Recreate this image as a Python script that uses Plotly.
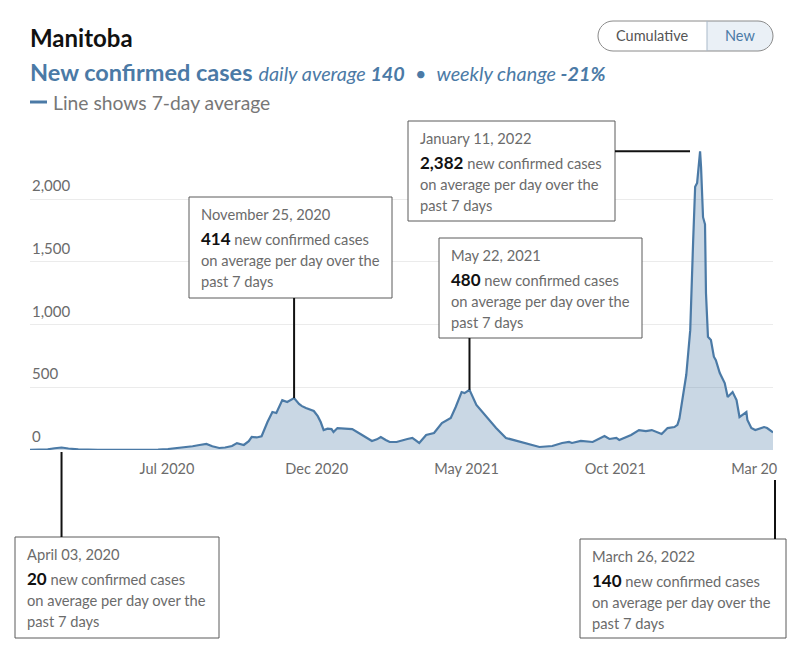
import plotly.graph_objects as go
import pandas as pd

# ---------------- data ----------------
dates = [
    "2020-03-02", "2020-03-12", "2020-03-20", "2020-03-27", "2020-04-03", "2020-04-10",
    "2020-04-20", "2020-05-10", "2020-06-01", "2020-06-25", "2020-07-10", "2020-07-20",
    "2020-07-31", "2020-08-08", "2020-08-14", "2020-08-21", "2020-08-28", "2020-09-03",
    "2020-09-10", "2020-09-16", "2020-09-23", "2020-09-28", "2020-10-05", "2020-10-10",
    "2020-10-13", "2020-10-18", "2020-10-23", "2020-10-29", "2020-11-03", "2020-11-07",
    "2020-11-10", "2020-11-13", "2020-11-18", "2020-11-21", "2020-11-25", "2020-11-30",
    "2020-12-03", "2020-12-07", "2020-12-11", "2020-12-15", "2020-12-19", "2020-12-22",
    "2020-12-25", "2020-12-29", "2021-01-02", "2021-01-04", "2021-01-08", "2021-01-15",
    "2021-01-23", "2021-02-02", "2021-02-08", "2021-02-12", "2021-02-17", "2021-02-21",
    "2021-02-26", "2021-03-02", "2021-03-09", "2021-03-15", "2021-03-20", "2021-03-25",
    "2021-04-01", "2021-04-08", "2021-04-16", "2021-04-24", "2021-05-03", "2021-05-08",
    "2021-05-14", "2021-05-17", "2021-05-22", "2021-05-29", "2021-06-08", "2021-06-18",
    "2021-06-28", "2021-07-09", "2021-07-19", "2021-08-01", "2021-08-14", "2021-08-24",
    "2021-08-31", "2021-09-03", "2021-09-12", "2021-09-24", "2021-10-06", "2021-10-11",
    "2021-10-18", "2021-10-21", "2021-11-02", "2021-11-10", "2021-11-17", "2021-11-23",
    "2021-12-03", "2021-12-09", "2021-12-16", "2021-12-19", "2021-12-21", "2021-12-24",
    "2021-12-28", "2022-01-01", "2022-01-02", "2022-01-03", "2022-01-04", "2022-01-06",
    "2022-01-08", "2022-01-11", "2022-01-12", "2022-01-14", "2022-01-16", "2022-01-17",
    "2022-01-18", "2022-01-19", "2022-01-22", "2022-01-25", "2022-01-27", "2022-01-31",
    "2022-02-05", "2022-02-08", "2022-02-13", "2022-02-17", "2022-02-20", "2022-02-23",
    "2022-02-27", "2022-02-28", "2022-03-04", "2022-03-08", "2022-03-17", "2022-03-20",
    "2022-03-26",
]
new_cases_7day = [
    2, 2, 6, 14, 20, 12,
    5, 2, 1, 2, 3, 8,
    16, 22, 30, 40, 48, 30,
    16, 20, 32, 55, 40, 70,
    104, 100, 110, 223, 303, 295,
    350, 398, 383, 395, 414, 367,
    350, 335, 320, 311, 270, 223,
    159, 170, 167, 143, 175, 170,
    167, 120, 90, 72, 85, 104,
    80, 64, 64, 80, 88, 96,
    56, 120, 136, 215, 255, 343,
    462, 454, 480, 359, 263, 175,
    96, 72, 56, 24, 32, 56,
    64, 56, 72, 64, 112, 88,
    96, 80, 120, 159, 151, 159,
    128, 175, 183, 200, 250, 398,
    600, 956, 1150, 1490, 1674, 2100,
    2130, 2382, 2256, 1857, 1800, 1250,
    1012, 903, 877, 744, 717, 614,
    534, 422, 462, 398, 263, 279,
    303, 239, 175, 159, 183, 175,
    140,
]

tick_dates = ["2020-07-19", "2020-12-18", "2021-05-19", "2021-10-17", "2022-03-07"]
tick_labels = ["Jul 2020", "Dec 2020", "May 2021", "Oct 2021", "Mar 20"]
y_ticks = [0, 500, 1000, 1500, 2000]
y_tick_labels = ["0", "500", "1,000", "1,500", "2,000"]

region = "Manitoba"
metric = "New confirmed cases"
daily_average = 140
weekly_change = "-21%"
callout_dates = ["2020-04-03", "2020-11-25", "2021-05-22", "2022-01-11", "2022-03-26"]

# ---------------- layout geometry (reference pixel coordinates) ----------------
OFF = 8                      # page body margin of the html page
WIDTH, HEIGHT = 800 - 2 * OFF, 654 - 2 * OFF
L, R, T, B = 30, 773, 120, 450
W, H = R - L, B - T
Y_MAX = 2632

BLUE = "#4b7aa6"
GRAY = "#6b6b6b"
FONT = "Lato"


def px(x):
    return (x - L) / W


def py(y):
    return (B - y) / H


def yval(y):
    return (B - y) / H * Y_MAX


def pt(x, y):
    return f"{px(x):.5f},{py(y):.5f}"


K = 0.5523


def pill(x0, x1, y0, y1, r, round_left, round_right):
    p = [f"M {pt(x0 + r, y0)}" if round_left else f"M {pt(x0, y0)}"]
    if round_right:
        p.append(f"L {pt(x1 - r, y0)}")
        p.append(f"C {pt(x1 - r + K * r, y0)} {pt(x1, y0 + r - K * r)} {pt(x1, y0 + r)}")
        p.append(f"L {pt(x1, y1 - r)}")
        p.append(f"C {pt(x1, y1 - r + K * r)} {pt(x1 - r + K * r, y1)} {pt(x1 - r, y1)}")
    else:
        p.append(f"L {pt(x1, y0)}")
        p.append(f"L {pt(x1, y1)}")
    if round_left:
        p.append(f"L {pt(x0 + r, y1)}")
        p.append(f"C {pt(x0 + r - K * r, y1)} {pt(x0, y1 - r + K * r)} {pt(x0, y1 - r)}")
        p.append(f"L {pt(x0, y0 + r)}")
        p.append(f"C {pt(x0, y0 + r - K * r)} {pt(x0 + r - K * r, y0)} {pt(x0 + r, y0)}")
    else:
        p.append(f"L {pt(x0, y1)}")
    p.append("Z")
    return " ".join(p)


series = dict(zip(dates, new_cases_7day))

fig = go.Figure()
fig.add_trace(go.Scatter(
    x=dates, y=new_cases_7day, mode="lines",
    line=dict(color=BLUE, width=2.2),
    fill="tozeroy", fillcolor="rgba(75,122,166,0.30)",
    hoverinfo="skip", showlegend=False,
))

shapes = []
annotations = []

# y tick labels, sitting above their grid lines
for v, lab in zip(y_ticks, y_tick_labels):
    annotations.append(dict(xref="paper", yref="y", x=0, y=v, xanchor="left", yanchor="middle",
                            yshift=14, text=lab, showarrow=False,
                            font=dict(family=FONT, size=15, color=GRAY)))

# header
annotations.append(dict(xref="paper", yref="paper", x=px(28), y=py(37), xanchor="left", yanchor="middle",
                        text=f"<b>{region}</b>", showarrow=False,
                        font=dict(family=FONT, size=24, color="#111111")))
annotations.append(dict(
    xref="paper", yref="paper", x=px(28), y=py(72), xanchor="left", yanchor="middle",
    text=(f"<b>{metric}</b> <span style='font-size:19.8px'><i>daily average <b>{daily_average}</b></i>"
          f"  \u2022  <i>weekly change <b>{weekly_change}</b></i></span>"),
    showarrow=False, font=dict(family=FONT, size=23.5, color=BLUE)))
shapes.append(dict(type="line", xref="paper", yref="paper", x0=px(30), x1=px(47), y0=py(102), y1=py(102),
                   line=dict(color=BLUE, width=3)))
annotations.append(dict(xref="paper", yref="paper", x=px(51), y=py(102), xanchor="left", yanchor="middle",
                        text="Line shows 7-day average", showarrow=False,
                        font=dict(family=FONT, size=19.3, color="#777777")))

# toggle buttons
shapes.append(dict(type="path", xref="paper", yref="paper", path=pill(707, 773, 21, 51, 15, False, True),
                   fillcolor="#eaf0f6", line=dict(width=0)))
shapes.append(dict(type="path", xref="paper", yref="paper", path=pill(598, 773, 21, 51, 15, True, True),
                   fillcolor="rgba(0,0,0,0)", line=dict(color="#8a8a8a", width=1)))
shapes.append(dict(type="line", xref="paper", yref="paper", x0=px(707), x1=px(707), y0=py(21), y1=py(51),
                   line=dict(color="#a9b9c9", width=1)))
annotations.append(dict(xref="paper", yref="paper", x=px(652), y=py(36), xanchor="center", yanchor="middle",
                        text="Cumulative", showarrow=False, font=dict(family=FONT, size=14.5, color="#555555")))
annotations.append(dict(xref="paper", yref="paper", x=px(740), y=py(36), xanchor="center", yanchor="middle",
                        text="New", showarrow=False, font=dict(family=FONT, size=14.5, color=BLUE)))

# callout boxes: (left, top, right, bottom) in reference pixels
boxes = {
    "2020-04-03": (15, 537, 219, 638),
    "2020-11-25": (189, 197, 392, 298),
    "2021-05-22": (439, 238, 642, 338),
    "2022-01-11": (408, 121, 615, 221),
    "2022-03-26": (580, 539, 786, 638),
}
for d in callout_dates:
    v = series[d]
    x0, y0, x1, y1 = boxes[d]
    shapes.append(dict(type="rect", xref="paper", yref="paper", x0=px(x0), x1=px(x1), y0=py(y1), y1=py(y0),
                       fillcolor="white", line=dict(color="#5a5a5a", width=1), layer="above"))
    lines = [
        (pd.Timestamp(d).strftime("%B %d, %Y"), 17),
        (f"<span style='color:#111111;font-size:17px'><b>{v:,}</b></span> new confirmed cases", 41),
        ("on average per day over the", 63),
        ("past 7 days", 84),
    ]
    for txt, off in lines:
        annotations.append(dict(xref="paper", yref="paper", x=px(x0 + 10), y=py(y0 + off),
                                xanchor="left", yanchor="middle", text=txt, showarrow=False,
                                font=dict(family=FONT, size=14.7, color=GRAY)))

# leader lines
lw = dict(color="#111111", width=2)
for d in ["2020-11-25", "2021-05-22"]:
    shapes.append(dict(type="line", xref="x", yref="y", x0=d, x1=d, y0=series[d], y1=yval(boxes[d][3]),
                       line=lw))
shapes.append(dict(type="line", xref="paper", yref="y", x0=px(615), x1=px(690),
                   y0=series["2022-01-11"], y1=series["2022-01-11"], line=lw))
shapes.append(dict(type="line", xref="x", yref="paper", x0="2020-04-03", x1="2020-04-03",
                   y0=py(452), y1=py(537), line=lw))
shapes.append(dict(type="line", xref="paper", yref="paper", x0=px(775), x1=px(775),
                   y0=py(480), y1=py(539), line=lw))

fig.update_layout(
    width=WIDTH, height=HEIGHT,
    margin=dict(l=L - OFF, r=WIDTH - (R - OFF), t=T - OFF, b=HEIGHT - (B - OFF), pad=0),
    paper_bgcolor="white", plot_bgcolor="white",
    font=dict(family=FONT, color=GRAY),
    shapes=shapes, annotations=annotations,
    hovermode=False, showlegend=False,
    xaxis=dict(
        type="date", range=[dates[0], dates[-1]],
        tickvals=tick_dates, ticktext=tick_labels,
        showgrid=False, zeroline=False, showline=False, ticks="",
        tickfont=dict(family=FONT, size=14.5, color=GRAY),
        ticklabelstandoff=8, fixedrange=True,
    ),
    yaxis=dict(
        range=[0, Y_MAX], tickvals=y_ticks,
        showgrid=True, gridcolor="#ebebeb", gridwidth=1,
        zeroline=False, showline=False, ticks="", showticklabels=False,
        fixedrange=True,
    ),
)

fig.write_html("out.html")
